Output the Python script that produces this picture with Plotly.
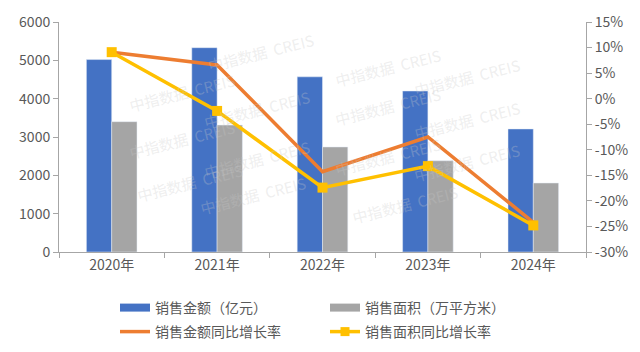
import plotly.graph_objects as go

years = ["2020年", "2021年", "2022年", "2023年", "2024年"]
sales_amount = [5020, 5330, 4570, 4200, 3210]          # 亿元
sales_area = [3400, 3310, 2740, 2380, 1800]             # 万平方米
amount_yoy = [9.1, 6.6, -14.3, -7.5, -24.2]             # %
area_yoy = [9.1, -2.4, -17.4, -13.2, -24.8]             # %
right_ticks = [15, 10, 5, 0, -5, -10, -15, -20, -25, -30]
right_ticktext = [f"{v}%" for v in right_ticks]

BLUE = "#4472C4"
GRAY = "#A5A5A5"
ORANGE = "#ED7D31"
YELLOW = "#FFC000"
AXIS = "#A6A6A6"
TXT = "#595959"
FONT = "Noto Sans CJK SC"

fig = go.Figure()
fig.add_trace(go.Bar(x=years, y=sales_amount, marker_color=BLUE, showlegend=False, name="销售金额（亿元）"))
fig.add_trace(go.Bar(x=years, y=sales_area, marker_color=GRAY, showlegend=False, name="销售面积（万平方米）"))
fig.add_trace(go.Scatter(x=years, y=amount_yoy, yaxis="y2", mode="lines",
                         line=dict(color=ORANGE, width=3.5), showlegend=False))
fig.add_trace(go.Scatter(x=years, y=area_yoy, yaxis="y2", mode="lines+markers",
                         line=dict(color=YELLOW, width=3.5),
                         marker=dict(symbol="square", size=10, color=YELLOW), showlegend=False))

# legend entries, one legend each for exact placement
legend_specs = [
    ("销售金额（亿元）", dict(mode="lines", line=dict(color=BLUE, width=8)), "legend", 115, 308),
    ("销售面积（万平方米）", dict(mode="lines", line=dict(color=GRAY, width=8)), "legend2", 325, 308),
    ("销售金额同比增长率", dict(mode="lines", line=dict(color=ORANGE, width=3.5)), "legend3", 115, 332),
    ("销售面积同比增长率", dict(mode="lines+markers", line=dict(color=YELLOW, width=3.5),
                       marker=dict(symbol="square", size=9, color=YELLOW)), "legend4", 325, 332),
]
legend_layout = {}
for name, style, lg, lx, ly in legend_specs:
    fig.add_trace(go.Scatter(x=[None], y=[None], name=name, legend=lg, **style))
    legend_layout[lg] = dict(xref="container", yref="container", x=lx / 640, y=1 - ly / 352,
                             xanchor="left", yanchor="middle", orientation="h",
                             font=dict(size=14, color=TXT), bgcolor="rgba(0,0,0,0)")

# watermarks
wm = [(245, 8), (80, 68), (400, 30), (565, 45), (240, 95), (80, 180), (400, 130),
      (565, 150), (240, 210), (400, 245), (565, 255), (90, 285), (235, 305), (420, 318)]
for (px, py) in wm:
    fig.add_annotation(x=px / 640, y=1 - py / 352, xref="paper", yref="paper",
                       text="中指数据  CREIS", showarrow=False, textangle=-14,
                       font=dict(family=FONT, size=15, color="rgba(200,200,200,0.3)"))

fig.update_layout(
    width=640, height=352,
    margin=dict(l=59, r=54, t=22, b=100, autoexpand=False),
    paper_bgcolor="white", plot_bgcolor="white",
    barmode="group", bargap=0.52, bargroupgap=0,
    font=dict(family=FONT, size=14, color=TXT),
    xaxis=dict(showline=True, linecolor=AXIS, linewidth=1, ticks="outside", tickson="boundaries",
               ticklen=5, tickcolor=AXIS, showgrid=False, tickfont=dict(size=14, color=TXT)),
    yaxis=dict(range=[0, 6000], dtick=1000, showline=True, linecolor=AXIS, ticks="outside",
               ticklen=5, tickcolor=AXIS, showgrid=False, zeroline=False,
               tickfont=dict(size=14, color=TXT)),
    yaxis2=dict(range=[-30, 15], overlaying="y", side="right", tickvals=right_ticks,
                ticktext=right_ticktext, showline=True, linecolor=AXIS, ticks="outside",
                ticklen=5, tickcolor=AXIS, showgrid=False, zeroline=False,
                tickfont=dict(size=14, color=TXT)),
    **legend_layout,
)

fig.write_html("out.html")
